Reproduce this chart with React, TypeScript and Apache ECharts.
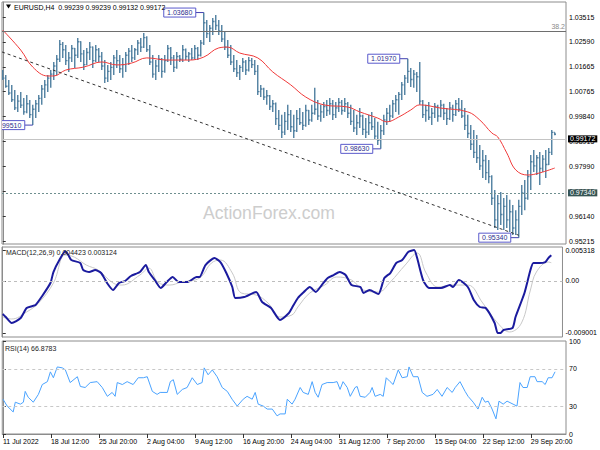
import React, { useEffect, useRef } from 'react';
import * as echarts from 'echarts';

const FONT = '"Liberation Sans", Arial, sans-serif';

// H4 bars (each entry = [open, high, low, close])
const ohlc: number[][] = [
  [1.0150,1.0155,1.0118,1.0125],[1.0125,1.0137,1.0089,1.0095],[1.0095,1.0118,1.0063,1.0070],[1.0070,1.0100,1.0037,1.0045],
  [1.0045,1.0081,1.0007,1.0015],[1.0015,1.0063,1.0000,1.0040],[1.0040,1.0074,1.0014,1.0025],[1.0025,1.0051,0.9989,1.0000],
  [1.0000,1.0063,0.9995,1.0030],[1.0030,1.0044,0.9977,0.9990],[0.9990,1.0026,0.9951,1.0010],[1.0010,1.0044,0.9977,1.0030],
  [1.0030,1.0063,1.0000,1.0050],[1.0050,1.0100,1.0026,1.0085],[1.0085,1.0118,1.0051,1.0100],[1.0100,1.0137,1.0074,1.0125],
  [1.0125,1.0155,1.0089,1.0140],[1.0140,1.0185,1.0118,1.0170],[1.0170,1.0211,1.0137,1.0195],[1.0195,1.0266,1.0185,1.0250],
  [1.0250,1.0259,1.0200,1.0230],[1.0230,1.0248,1.0174,1.0190],[1.0190,1.0222,1.0148,1.0200],[1.0200,1.0248,1.0185,1.0235],
  [1.0235,1.0237,1.0163,1.0210],[1.0210,1.0274,1.0200,1.0260],[1.0260,1.0262,1.0185,1.0215],[1.0215,1.0229,1.0155,1.0175],
  [1.0175,1.0237,1.0174,1.0220],[1.0220,1.0259,1.0192,1.0240],[1.0240,1.0242,1.0163,1.0190],[1.0190,1.0248,1.0185,1.0230],
  [1.0230,1.0237,1.0185,1.0205],[1.0205,1.0222,1.0155,1.0170],[1.0170,1.0192,1.0107,1.0125],[1.0125,1.0174,1.0111,1.0150],
  [1.0150,1.0185,1.0118,1.0165],[1.0165,1.0211,1.0137,1.0200],[1.0200,1.0229,1.0163,1.0190],[1.0190,1.0211,1.0144,1.0160],
  [1.0160,1.0200,1.0126,1.0175],[1.0175,1.0222,1.0148,1.0210],[1.0210,1.0237,1.0174,1.0225],[1.0225,1.0248,1.0185,1.0200],
  [1.0200,1.0237,1.0192,1.0230],[1.0230,1.0266,1.0211,1.0255],[1.0255,1.0274,1.0222,1.0240],[1.0240,1.0292,1.0237,1.0275],
  [1.0275,1.0280,1.0222,1.0230],[1.0230,1.0248,1.0174,1.0185],[1.0185,1.0211,1.0126,1.0140],[1.0140,1.0192,1.0118,1.0170],
  [1.0170,1.0211,1.0148,1.0195],[1.0195,1.0200,1.0126,1.0150],[1.0150,1.0211,1.0145,1.0190],[1.0190,1.0248,1.0185,1.0235],
  [1.0235,1.0240,1.0174,1.0200],[1.0200,1.0211,1.0148,1.0165],[1.0165,1.0222,1.0160,1.0205],[1.0205,1.0211,1.0185,1.0195],
  [1.0195,1.0248,1.0185,1.0230],[1.0230,1.0235,1.0192,1.0205],[1.0205,1.0222,1.0185,1.0215],[1.0215,1.0237,1.0192,1.0200],
  [1.0200,1.0248,1.0195,1.0235],[1.0235,1.0240,1.0192,1.0210],[1.0210,1.0266,1.0205,1.0255],[1.0255,1.0368,1.0248,1.0330],
  [1.0330,1.0340,1.0274,1.0290],[1.0290,1.0322,1.0259,1.0310],[1.0310,1.0348,1.0285,1.0335],[1.0335,1.0359,1.0303,1.0320],
  [1.0320,1.0340,1.0285,1.0300],[1.0300,1.0322,1.0259,1.0270],[1.0270,1.0296,1.0229,1.0240],[1.0240,1.0266,1.0200,1.0210],
  [1.0210,1.0248,1.0174,1.0185],[1.0185,1.0211,1.0148,1.0160],[1.0160,1.0192,1.0129,1.0145],[1.0145,1.0174,1.0118,1.0165],
  [1.0165,1.0200,1.0148,1.0185],[1.0185,1.0192,1.0137,1.0155],[1.0155,1.0203,1.0150,1.0190],[1.0190,1.0200,1.0163,1.0175],
  [1.0175,1.0192,1.0137,1.0150],[1.0150,1.0174,1.0063,1.0075],[1.0075,1.0100,1.0055,1.0085],[1.0085,1.0089,1.0044,1.0055],
  [1.0055,1.0081,1.0026,1.0060],[1.0060,1.0063,1.0007,1.0020],[1.0020,1.0044,1.0000,1.0030],[1.0030,1.0035,0.9951,0.9975],
  [0.9975,1.0007,0.9933,0.9950],[0.9950,0.9989,0.9903,0.9925],[0.9925,1.0000,0.9914,0.9965],[0.9965,1.0026,0.9933,0.9990],
  [0.9990,1.0007,0.9925,0.9945],[0.9945,0.9989,0.9903,0.9930],[0.9930,1.0007,0.9925,0.9975],[0.9975,1.0014,0.9951,0.9960],
  [0.9960,1.0000,0.9933,0.9950],[0.9950,1.0026,0.9945,1.0005],[1.0005,1.0007,0.9951,0.9970],[0.9970,1.0026,0.9963,0.9995],
  [0.9995,1.0089,0.9989,1.0010],[1.0010,1.0044,0.9970,0.9985],[0.9985,1.0026,0.9963,1.0000],[1.0000,1.0037,0.9977,1.0020],
  [1.0020,1.0044,0.9985,1.0005],[1.0005,1.0051,0.9989,1.0030],[1.0030,1.0044,0.9970,0.9990],[0.9990,1.0037,0.9977,1.0015],
  [1.0015,1.0051,1.0000,1.0035],[1.0035,1.0044,0.9989,1.0005],[1.0005,1.0051,1.0000,1.0030],[1.0030,1.0037,0.9977,0.9995],
  [0.9995,1.0026,0.9951,0.9965],[0.9965,1.0007,0.9925,0.9940],[0.9940,0.9989,0.9914,0.9960],[0.9960,1.0014,0.9940,0.9985],
  [0.9985,0.9989,0.9914,0.9935],[0.9935,0.9977,0.9903,0.9925],[0.9925,0.9989,0.9914,0.9960],[0.9960,1.0000,0.9933,0.9945],
  [0.9945,0.9977,0.9896,0.9910],[0.9910,0.9963,0.9877,0.9895],[0.9895,0.9951,0.9863,0.9930],[0.9930,0.9989,0.9914,0.9970],
  [0.9970,1.0014,0.9951,0.9995],[0.9995,1.0026,0.9963,0.9985],[0.9985,1.0044,0.9977,1.0030],[1.0030,1.0063,1.0000,1.0045],
  [1.0045,1.0074,0.9989,1.0065],[1.0065,1.0111,1.0044,1.0100],[1.0100,1.0137,1.0063,1.0125],[1.0125,1.0197,1.0107,1.0150],
  [1.0150,1.0163,1.0092,1.0120],[1.0120,1.0155,1.0089,1.0140],[1.0140,1.0148,1.0074,1.0130],[1.0130,1.0185,1.0026,1.0040],
  [1.0040,1.0044,0.9977,0.9990],[0.9990,1.0026,0.9963,1.0005],[1.0005,1.0037,0.9970,0.9980],[0.9980,1.0014,0.9951,0.9995],
  [0.9995,1.0033,0.9977,1.0020],[1.0020,1.0026,0.9963,0.9985],[0.9985,1.0044,0.9980,1.0025],[1.0025,1.0030,0.9970,0.9995],
  [0.9995,1.0014,0.9951,0.9975],[0.9975,1.0037,0.9970,1.0015],[1.0015,1.0026,0.9963,0.9990],[0.9990,1.0044,0.9985,1.0030],
  [1.0030,1.0051,1.0000,1.0010],[1.0010,1.0044,0.9977,0.9985],[0.9985,1.0014,0.9933,0.9950],[0.9950,0.9989,0.9903,0.9920],
  [0.9920,0.9951,0.9859,0.9880],[0.9880,0.9933,0.9829,0.9850],[0.9850,0.9914,0.9811,0.9830],[0.9830,0.9877,0.9785,0.9800],
  [0.9800,0.9859,0.9755,0.9820],[0.9820,0.9840,0.9748,0.9775],[0.9775,0.9822,0.9736,0.9760],[0.9760,0.9765,0.9655,0.9680],
  [0.9680,0.9711,0.9570,0.9600],[0.9600,0.9692,0.9562,0.9660],[0.9660,0.9703,0.9581,0.9620],[0.9620,0.9681,0.9562,0.9650],
  [0.9650,0.9692,0.9570,0.9600],[0.9600,0.9674,0.9555,0.9630],[0.9630,0.9655,0.9544,0.9570],[0.9570,0.9636,0.9544,0.9600],
  [0.9600,0.9674,0.9534,0.9650],[0.9650,0.9729,0.9618,0.9700],[0.9700,0.9748,0.9636,0.9680],[0.9680,0.9785,0.9674,0.9760],
  [0.9760,0.9840,0.9711,0.9815],[0.9815,0.9859,0.9777,0.9800],[0.9800,0.9840,0.9766,0.9830],[0.9830,0.9851,0.9729,0.9790],
  [0.9790,0.9840,0.9777,0.9825],[0.9825,0.9859,0.9755,0.9805],[0.9805,0.9866,0.9803,0.9850],[0.9850,0.9933,0.9840,0.9924],
  [0.99239,0.99239,0.99132,0.99172],
];

// moving average [bar index, value]
const maPoints: number[][] = [
  [0,1.0303],[6,1.0229],[10,1.0166],[15,1.0133],[17,1.0133],[21,1.0155],[27,1.0166],[33,1.0185],[38,1.0174],
  [43,1.0181],[48,1.0200],[55,1.0192],[62,1.0192],[67,1.0203],[72,1.0237],[75,1.0240],[79,1.0218],[85,1.0200],
  [90,1.0148],[96,1.0100],[101,1.0055],[107,1.0026],[115,1.0018],[119,1.0000],[125,0.9977],[128,0.9963],[132,0.9981],
  [136,1.0007],[139,1.0026],[146,1.0014],[155,1.0000],[159,0.9970],[163,0.9922],[165,0.9907],[168,0.9848],[171,0.9785],
  [175,0.9766],[179,0.9774],[184,0.9792],
];

const macdPoints: number[][] = [
  [0,-0.00573],[1,-0.00625],[3,-0.00728],[6,-0.00642],[8,-0.00469],[10,-0.00435],[11,-0.00418],[13,-0.0028],[16,-0.00038],
  [17,0.00152],[19,0.00359],[21,0.0051],[22,0.00445],[23,0.00359],[26,0.00307],[27,0.00186],[29,0.00152],[31,0.00186],
  [33,0.00135],[35,-0.00038],[37,-0.00159],[39,-0.00038],[41,-0.00003],[43,0.00083],[46,0.00152],[48,0.00273],[49,0.00152],
  [51,0.00014],[53,-0.00124],[55,-0.00021],[57,0.00066],[59,-0.00021],[62,-0.00021],[65,0.00066],[66,0.00066],[68,0.00273],
  [71,0.00393],[73,0.00324],[75,0.00135],[77,-0.00107],[78,-0.00297],[81,-0.0028],[85,-0.00193],[87,-0.00366],[90,-0.00469],
  [93,-0.00676],[96,-0.00556],[97,-0.00469],[99,-0.00297],[101,-0.00193],[103,-0.00107],[105,-0.00193],[107,-0.00073],
  [109,0.00048],[111,0.001],[113,0.00152],[115,0.001],[117,-0.00073],[120,-0.00107],[121,-0.0021],[123,-0.00159],
  [126,-0.00228],[128,0.00048],[130,0.00135],[132,0.00307],[134,0.00359],[136,0.00497],[138,0.00531],[139,0.00393],
  [141,0.00014],[143,-0.00124],[147,-0.00124],[150,-0.00073],[151,-0.00107],[153,0.00014],[156,-0.00107],[158,-0.00331],
  [160,-0.00452],[162,-0.00469],[165,-0.00728],[166,-0.009],[167,-0.009],[168,-0.00849],[171,-0.00814],[172,-0.00625],
  [175,-0.0021],[177,0.00186],[178,0.00307],[180,0.00307],[182,0.00324],[183,0.00393],[184,0.004423],
];

const signalPoints: number[][] = [
  [0,-0.00625],[3,-0.00659],[8,-0.00538],[12,-0.00383],[17,-0.00038],[21,0.00445],[24,0.0041],[28,0.00273],[32,0.00186],
  [37,-0.00038],[40,-0.00073],[46,0.001],[49,0.0022],[52,-0.00021],[56,-0.00073],[60,-0.00021],[66,0.00048],[70,0.00307],
  [73,0.00359],[77,0.00135],[80,-0.0021],[85,-0.00245],[89,-0.00383],[93,-0.00625],[97,-0.0059],[99,-0.00452],
  [103,-0.0021],[108,-0.00073],[112,0.00066],[117,0.00014],[121,-0.00159],[126,-0.00193],[130,-0.00021],[135,0.00273],
  [139,0.0048],[142,0.00135],[146,-0.00107],[151,-0.00073],[156,-0.00073],[161,-0.00383],[166,-0.00728],[170,-0.00883],
  [174,-0.00728],[177,-0.00159],[179,0.00152],[183,0.00324],[184,0.003124],
];

const rsiPoints: number[][] = [
  [0,37.4],[1.4,30],[3.4,23.7],[4.1,34.2],[5.8,32.1],[6.8,34.2],[7.4,45.8],[8.4,39.5],[10.1,34.2],[11.8,42.6],
  [13.1,53.2],[14.8,56.3],[15.8,66.8],[16.8,60.5],[18.1,72.1],[19.8,71.1],[20.8,68.9],[22.4,55.3],[24.8,61.6],
  [25.8,51.1],[27.4,50.0],[29.1,55.3],[31.4,56.3],[33.1,50.0],[34.8,40.5],[36.4,44.7],[37.4,40.5],[38.1,55.3],
  [39.8,53.2],[41.4,56.3],[43.4,53.2],[45.1,60.5],[46.8,60.5],[48.1,61.6],[49.8,45.8],[51.4,42.6],[52.4,44.7],
  [54.8,44.7],[55.8,56.3],[56.8,58.4],[58.1,42.6],[59.8,47.9],[61.4,50.0],[63.1,60.5],[64.8,53.2],[66.4,55.3],
  [67.1,71.1],[68.4,63.7],[69.8,68.9],[71.4,61.6],[73.1,50.0],[74.8,45.8],[76.4,37.4],[78.1,30.0],[80.1,37.4],
  [81.4,40.5],[83.1,37.4],[84.1,44.7],[85.1,32.1],[86.8,30.0],[88.1,26.8],[89.8,26.8],[91.4,19.5],[92.4,21.6],
  [94.1,21.6],[94.8,37.4],[96.4,32.1],[97.4,37.4],[99.1,50.0],[100.1,44.7],[101.8,42.6],[103.1,56.3],[104.1,44.7],
  [105.1,39.5],[106.4,53.2],[108.1,55.3],[110.1,55.3],[111.4,56.3],[112.4,47.9],[113.4,56.3],[114.8,50.0],[115.8,40.5],
  [117.4,50.0],[118.1,51.1],[119.1,40.5],[120.8,39.5],[122.4,44.7],[123.1,50.0],[124.1,40.5],[125.8,42.6],[126.8,40.5],
  [127.8,60.5],[129.1,56.3],[130.1,53.2],[131.8,68.9],[133.1,60.5],[134.8,61.6],[135.4,72.1],[136.8,61.6],[138.4,61.6],
  [139.8,44.7],[141.4,40.5],[143.4,42.6],[144.8,47.9],[146.4,40.5],[148.1,50.0],[149.8,44.7],[150.8,50.0],[152.4,56.3],
  [154.1,45.8],[155.1,40.5],[156.8,34.2],[158.4,26.8],[159.8,39.5],[160.8,34.2],[161.8,35.3],[163.1,26.8],[164.4,16.3],
  [165.4,35.3],[166.8,32.1],[168.1,35.3],[170.1,32.1],[171.4,30.0],[172.4,55.3],[173.4,50.0],[174.8,50.0],[175.8,61.6],
  [177.4,61.6],[178.1,56.3],[179.8,56.3],[180.8,53.2],[181.8,60.5],[183.1,60.5],[184.1,66.9],
];

const xLabels = ['11 Jul 2022','18 Jul 12:00','25 Jul 20:00','2 Aug 04:00','9 Aug 12:00','16 Aug 20:00',
  '24 Aug 04:00','31 Aug 12:00','7 Sep 20:00','15 Sep 04:00','22 Sep 12:00','29 Sep 20:00'];
const xLabelStep = 16;
const xTickValues = xLabels.map((_, k) => k * xLabelStep);

const priceTicks = [1.03515, 1.0259, 1.01665, 1.00765, 0.9984, 0.98915, 0.9799, 0.97065, 0.9614, 0.95215];
const macdTicks = [0.005318, 0, -0.009001];
const rsiTicks = [100, 70, 30, 0];
const rsiLevels = [70, 30];

const annotIdx = [10, 67, 126, 135, 172];
const annotPrice = [0.9951, 1.0368, 0.9863, 1.0197, 0.9534];

const lastPrice = 0.99172;
const supportPrice = 0.9734;
const fibPrice = 1.0285;
const trendFrom = [-0.25, 1.0222];
const trendTo = [172, 0.9543];

const X_MIN = -0.25;
const X_MAX = 187.75;
const BAR = '#4f7fa0';
const FRAME = '#8c8c8c';

function buildOption(): any {
  const gridBase = { left: 2, right: 34, show: true, borderColor: FRAME, borderWidth: 1 };
  const hiddenX = (g: number) => ({ gridIndex: g, type: 'value', min: X_MIN, max: X_MAX, show: false });
  const rightY = (g: number, min: number, max: number, ticks: number[], fmt: (v: number) => string) => ({
    gridIndex: g, type: 'value', position: 'right', min, max, scale: true,
    splitLine: { show: false },
    axisLine: { show: true, lineStyle: { color: FRAME } },
    axisTick: { show: true, length: 3, customValues: ticks, lineStyle: { color: '#333' } },
    axisLabel: { customValues: ticks, formatter: fmt, fontSize: 7, lineHeight: 7, fontFamily: FONT, color: '#000', margin: 3 },
  });
  const boxLabel = (text: string, bg: string) => ({
    show: true, position: 'end', formatter: text, backgroundColor: bg, color: '#fff',
    padding: [0, 2, 0, 2], lineHeight: 7, fontSize: 7, fontFamily: FONT, distance: 2,
  });

  return {
    animation: false,
    backgroundColor: '#ffffff',
    grid: [
      { ...gridBase, top: 2, height: 242 },
      { ...gridBase, top: 247, height: 90 },
      { ...gridBase, top: 341, height: 93 },
    ],
    xAxis: [
      hiddenX(0),
      hiddenX(1),
      {
        gridIndex: 2, type: 'value', min: X_MIN, max: X_MAX,
        splitLine: { show: false },
        axisLine: { show: true, lineStyle: { color: FRAME } },
        axisTick: { show: true, length: 4, customValues: xTickValues, lineStyle: { color: '#333' } },
        axisLabel: {
          customValues: xTickValues,
          formatter: (v: number) => xLabels[Math.round(v / xLabelStep)] ?? '',
          align: 'left', fontSize: 7, fontFamily: FONT, color: '#000', margin: 4,
        },
      },
    ],
    yAxis: [
      rightY(0, 0.95105, 1.04071, priceTicks, (v: number) => v.toFixed(5)),
      rightY(1, -0.0097, 0.00584, macdTicks, (v: number) => (Math.abs(v) < 1e-9 ? '0.00' : v.toFixed(6))),
      rightY(2, 0, 100, rsiTicks, (v: number) => String(v)),
    ],
    graphic: [
      {
        type: 'text', x: 269, y: 213, z: 0, silent: true,
        style: { text: 'ActionForex.com', fill: '#cdcdcd', font: `17.6px ${FONT}`, align: 'center', verticalAlign: 'middle', textAlign: 'center', textVerticalAlign: 'middle' },
      },
      { type: 'polygon', shape: { points: [[6, 4.5], [11, 4.5], [8.5, 8.5]] }, style: { fill: '#000' }, z: 10 },
      {
        type: 'text', x: 14, y: 7, z: 10,
        style: { text: 'EURUSD,H4  0.99239 0.99239 0.99132 0.99172', fill: '#000', font: `7px ${FONT}`, verticalAlign: 'middle', textVerticalAlign: 'middle' },
      },
      {
        type: 'text', x: 6, y: 252, z: 10,
        style: { text: 'MACD(12,26,9) 0.004423 0.003124', fill: '#222', font: `7px ${FONT}`, verticalAlign: 'middle', textVerticalAlign: 'middle' },
      },
      {
        type: 'text', x: 5, y: 348, z: 10,
        style: { text: 'RSI(14) 66.8783', fill: '#222', font: `7px ${FONT}`, verticalAlign: 'middle', textVerticalAlign: 'middle' },
      },
    ],
    series: [
      {
        type: 'custom', name: 'bars', xAxisIndex: 0, yAxisIndex: 0, clip: true, z: 3,
        data: ohlc.map((b, i) => [i, b[0], b[1], b[2], b[3]]),
        encode: { x: 0, y: [1, 2, 3, 4] },
        renderItem: (_p: any, api: any) => {
          const i = api.value(0);
          const o = api.coord([i, api.value(1)]);
          const h = api.coord([i, api.value(2)]);
          const l = api.coord([i, api.value(3)]);
          const c = api.coord([i, api.value(4)]);
          const x = h[0];
          const style = { stroke: BAR, lineWidth: 1.4 };
          return {
            type: 'group',
            children: [
              { type: 'line', shape: { x1: x, y1: h[1], x2: x, y2: l[1] }, style },
              { type: 'line', shape: { x1: x - 1.2, y1: o[1], x2: x, y2: o[1] }, style },
              { type: 'line', shape: { x1: x, y1: c[1], x2: x + 1.2, y2: c[1] }, style },
            ],
          };
        },
      },
      {
        type: 'line', name: 'MA', xAxisIndex: 0, yAxisIndex: 0, data: maPoints, smooth: 0.4,
        showSymbol: false, symbol: 'none', z: 4, silent: true,
        lineStyle: { color: '#f03a3a', width: 1 },
        markLine: {
          silent: true, symbol: ['none', 'none'], animation: false,
          label: { show: false },
          data: [
            {
              yAxis: fibPrice, lineStyle: { color: '#6e6e6e', type: 'solid', width: 1 },
              label: { show: true, position: 'insideEndTop', formatter: '38.2', color: '#8a8a8a', fontSize: 7, fontFamily: FONT, distance: 1 },
            },
            {
              yAxis: lastPrice, lineStyle: { color: '#c4c4c4', type: 'solid', width: 1 },
              label: boxLabel(lastPrice.toFixed(5), '#000'),
            },
            {
              yAxis: supportPrice, lineStyle: { color: '#6f8f8f', type: [2, 2], width: 1 },
              label: boxLabel(supportPrice.toFixed(5), '#355454'),
            },
            [
              { coord: trendFrom, lineStyle: { color: '#333', type: [3, 3], width: 1 } },
              { coord: trendTo, lineStyle: { color: '#333', type: [3, 3], width: 1 } },
            ],
          ],
        },
      },
      {
        type: 'custom', name: 'annotations', xAxisIndex: 0, yAxisIndex: 0, clip: true, z: 6,
        data: annotIdx.map((i, k) => [i, annotPrice[k]]),
        encode: { x: 0, y: 1 },
        renderItem: (_p: any, api: any) => {
          const price = api.value(1);
          const pt = api.coord([api.value(0), price]);
          const x = pt[0];
          const y = pt[1];
          const w = 32;
          const hh = 9;
          const right = x - 8;
          return {
            type: 'group',
            children: [
              { type: 'line', shape: { x1: right, y1: y, x2: x, y2: y }, style: { stroke: '#4040b0', lineWidth: 1 } },
              { type: 'rect', shape: { x: right - w, y: y - hh / 2, width: w, height: hh }, style: { fill: '#fff', stroke: '#5a5acc', lineWidth: 1 } },
              {
                type: 'text', x: right - w / 2, y,
                style: { text: price.toFixed(5), fill: '#2c2c8c', font: `7px ${FONT}`, align: 'center', verticalAlign: 'middle', textAlign: 'center', textVerticalAlign: 'middle' },
              },
            ],
          };
        },
      },
      {
        type: 'line', name: 'Signal', xAxisIndex: 1, yAxisIndex: 1, data: signalPoints, smooth: 0.4,
        showSymbol: false, symbol: 'none', z: 2, silent: true,
        lineStyle: { color: '#c8c8c8', width: 1 },
        markLine: {
          silent: true, symbol: ['none', 'none'], label: { show: false },
          lineStyle: { color: '#bdbdbd', type: [3, 3], width: 1 },
          data: [{ yAxis: 0 }],
        },
      },
      {
        type: 'line', name: 'MACD', xAxisIndex: 1, yAxisIndex: 1, data: macdPoints, smooth: 0.2,
        showSymbol: false, symbol: 'none', z: 3, silent: true,
        lineStyle: { color: '#1b1b9e', width: 2 },
      },
      {
        type: 'line', name: 'RSI', xAxisIndex: 2, yAxisIndex: 2, data: rsiPoints,
        showSymbol: false, symbol: 'none', z: 3, silent: true,
        lineStyle: { color: '#4aa3ff', width: 1 },
        markLine: {
          silent: true, symbol: ['none', 'none'], label: { show: false },
          lineStyle: { color: '#c8c8c8', type: [3, 3], width: 1 },
          data: rsiLevels.map((v) => ({ yAxis: v })),
        },
      },
    ],
  };
}

export default function App() {
  const ref = useRef<HTMLDivElement>(null);
  useEffect(() => {
    if (!ref.current) return;
    const chart = echarts.init(ref.current, null, { renderer: 'svg' });
    chart.setOption(buildOption());
    return () => chart.dispose();
  }, []);
  return (
    <div
      ref={ref}
      style={{ position: 'fixed', left: 0, top: 0, width: 600, height: 450, background: '#fff' }}
    />
  );
}
